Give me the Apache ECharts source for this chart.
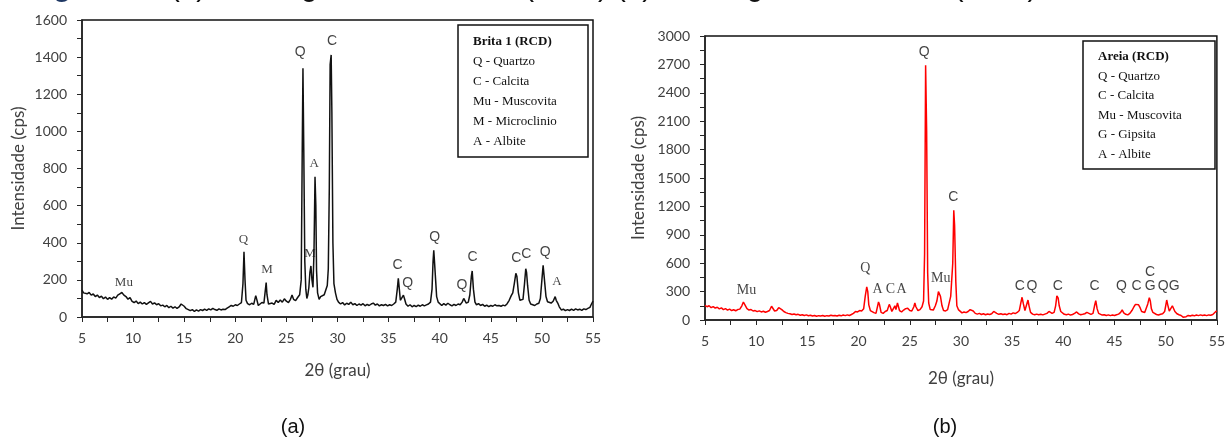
<!DOCTYPE html>
<html>
<head>
<meta charset="utf-8">
<script src="https://cdn.jsdelivr.net/npm/echarts@6/dist/echarts.min.js"></script>
<style>
  html, body { margin: 0; padding: 0; background: #fff; }
  #chart { width: 1228px; height: 445px; }
</style>
</head>
<body>
<div id="chart"></div>
<script>
// 2θ (grau), intensidade (cps)
var xTicks = [5, 10, 15, 20, 25, 30, 35, 40, 45, 50, 55];

// (a) Brita 1 (RCD)
var britaData = [
  [5.0,145],[5.15,130],[5.3,138],[5.5,125],[5.7,132],[5.9,118],[6.1,124],[6.3,110],[6.5,118],[6.7,105],
  [6.9,112],[7.1,98],[7.3,108],[7.5,95],[7.7,104],[7.9,96],[8.1,108],[8.3,102],[8.5,118],[8.7,125],
  [8.9,132],[9.1,118],[9.3,110],[9.5,96],[9.7,104],[9.9,84],[10.1,78],[10.3,86],[10.5,72],[10.7,80],
  [10.9,70],[11.1,78],[11.3,68],[11.5,76],[11.7,84],[11.9,70],[12.1,76],[12.3,66],[12.5,72],[12.7,60],
  [12.9,64],[13.1,55],[13.3,62],[13.5,50],[13.7,58],[13.9,48],[14.1,55],[14.3,46],[14.5,54],[14.7,70],
  [14.85,80],[15.0,58],[15.2,45],[15.4,40],[15.6,34],[15.8,40],[16.0,30],[16.2,38],[16.4,32],[16.6,40],
  [16.8,35],[17.0,42],[17.2,36],[17.4,44],[17.6,38],[17.8,46],[18.0,40],[18.2,36],[18.4,44],[18.6,38],
  [18.8,42],[19.0,40],[19.2,48],[19.4,55],[19.6,62],[19.8,58],[20.0,66],[20.2,62],[20.4,70],[20.6,78],
  [20.75,180],[20.85,352],[20.95,200],[21.05,90],[21.2,72],[21.4,66],[21.6,74],[21.8,68],[22.0,115],[22.1,95],
  [22.25,62],[22.4,70],[22.6,78],[22.8,75],[22.95,150],[23.02,186],[23.1,120],[23.25,70],[23.4,60],[23.6,75],
  [23.8,68],[24.0,90],[24.2,78],[24.4,92],[24.6,80],[24.8,98],[25.0,85],[25.2,78],[25.4,95],[25.55,118],
  [25.7,95],[25.9,88],[26.1,105],[26.3,120],[26.45,200],[26.55,900],[26.62,1340],[26.7,900],[26.8,300],[26.9,150],
  [27.0,100],[27.1,120],[27.2,160],[27.3,240],[27.4,275],[27.5,200],[27.6,160],[27.7,350],[27.8,756],[27.88,600],
  [27.95,250],[28.05,130],[28.2,95],[28.35,110],[28.5,100],[28.7,120],[28.85,130],[29.0,170],[29.1,260],[29.2,700],
  [29.28,1360],[29.38,1412],[29.45,1100],[29.55,400],[29.65,180],[29.8,130],[29.95,95],[30.1,80],[30.3,70],[30.5,78],
  [30.7,65],[30.9,74],[31.1,68],[31.3,80],[31.5,66],[31.7,72],[31.9,62],[32.1,70],[32.3,64],[32.5,72],
  [32.7,60],[32.9,68],[33.1,62],[33.3,70],[33.5,75],[33.7,64],[33.9,70],[34.1,60],[34.3,66],[34.5,62],
  [34.7,68],[34.9,60],[35.1,66],[35.3,62],[35.5,70],[35.7,80],[35.85,150],[35.95,208],[36.05,150],[36.15,90],
  [36.3,80],[36.45,118],[36.55,100],[36.7,70],[36.9,58],[37.1,66],[37.3,55],[37.5,62],[37.7,56],[37.9,64],
  [38.1,58],[38.3,66],[38.5,60],[38.7,65],[38.9,70],[39.1,80],[39.25,150],[39.35,300],[39.42,360],[39.5,290],
  [39.6,200],[39.7,110],[39.85,80],[40.0,70],[40.2,62],[40.4,72],[40.6,64],[40.8,74],[41.0,66],[41.2,60],
  [41.4,68],[41.6,62],[41.8,70],[42.0,66],[42.2,80],[42.35,100],[42.45,106],[42.6,75],[42.8,80],[42.95,120],
  [43.1,220],[43.18,248],[43.3,150],[43.45,80],[43.6,66],[43.8,72],[44.0,62],[44.2,68],[44.4,58],[44.6,64],
  [44.8,56],[45.0,62],[45.2,58],[45.4,66],[45.6,60],[45.8,62],[46.0,58],[46.2,64],[46.4,60],[46.6,72],
  [46.8,90],[47.0,115],[47.15,130],[47.3,180],[47.45,235],[47.55,220],[47.7,130],[47.85,90],[48.0,82],[48.15,95],
  [48.3,180],[48.42,260],[48.5,240],[48.6,170],[48.75,90],[48.9,70],[49.1,66],[49.3,62],[49.5,70],[49.7,74],
  [49.85,100],[50.0,200],[50.12,278],[50.25,200],[50.4,110],[50.55,82],[50.7,72],[50.9,75],[51.1,85],[51.3,110],
  [51.4,90],[51.55,75],[51.7,55],[51.9,38],[52.1,42],[52.3,34],[52.5,40],[52.7,35],[52.9,42],[53.1,36],
  [53.3,44],[53.5,38],[53.7,42],[53.9,36],[54.1,44],[54.3,40],[54.5,46],[54.7,52],[54.85,70],[55.0,85]
];

// (b) Areia (RCD)
var areiaData = [
  [5.0,155],[5.2,140],[5.4,150],[5.6,130],[5.8,142],[6.0,125],[6.2,135],[6.4,118],[6.6,128],[6.8,110],
  [7.0,120],[7.2,105],[7.4,115],[7.6,100],[7.8,108],[8.0,98],[8.2,110],[8.4,115],[8.6,150],[8.75,190],
  [8.9,160],[9.1,120],[9.3,105],[9.5,110],[9.7,95],[9.9,100],[10.1,88],[10.3,96],[10.5,85],[10.7,92],
  [10.9,82],[11.1,90],[11.3,100],[11.5,145],[11.6,130],[11.8,95],[12.0,100],[12.2,130],[12.35,140],[12.5,110],
  [12.7,90],[12.9,78],[13.1,70],[13.3,66],[13.5,58],[13.7,64],[13.9,55],[14.1,60],[14.3,50],[14.5,56],
  [14.7,48],[14.9,54],[15.1,45],[15.3,50],[15.5,42],[15.7,48],[15.9,40],[16.1,46],[16.3,42],[16.5,48],
  [16.7,40],[16.9,46],[17.1,42],[17.3,50],[17.5,44],[17.7,48],[17.9,42],[18.1,50],[18.3,44],[18.5,52],
  [18.7,46],[18.9,54],[19.1,48],[19.3,58],[19.5,70],[19.7,90],[19.9,85],[20.1,100],[20.3,95],[20.5,120],
  [20.65,250],[20.8,350],[20.9,300],[21.0,160],[21.15,100],[21.3,85],[21.5,78],[21.7,70],[21.85,90],[21.95,190],
  [22.05,160],[22.2,80],[22.4,70],[22.6,90],[22.8,100],[23.0,165],[23.1,140],[23.25,90],[23.4,80],[23.55,150],
  [23.65,110],[23.8,180],[23.9,160],[24.0,100],[24.2,85],[24.4,105],[24.6,120],[24.8,125],[25.0,100],[25.2,95],
  [25.4,140],[25.5,180],[25.6,140],[25.8,100],[26.0,110],[26.2,140],[26.35,200],[26.45,700],[26.55,2690],[26.65,2000],
  [26.75,500],[26.85,180],[27.0,110],[27.15,120],[27.3,105],[27.5,150],[27.65,200],[27.8,300],[27.9,310],[28.0,250],
  [28.15,150],[28.3,100],[28.5,95],[28.7,110],[28.85,130],[29.0,250],[29.1,260],[29.2,600],[29.3,1160],[29.38,1000],
  [29.5,400],[29.6,150],[29.75,110],[29.9,90],[30.1,75],[30.3,85],[30.5,78],[30.7,90],[30.9,110],[31.05,118],
  [31.2,95],[31.4,70],[31.6,62],[31.8,70],[32.0,58],[32.2,66],[32.4,56],[32.6,64],[32.8,58],[33.0,66],
  [33.2,90],[33.35,100],[33.5,70],[33.7,60],[33.9,66],[34.1,58],[34.3,64],[34.5,56],[34.7,70],[34.9,62],
  [35.1,75],[35.3,68],[35.5,80],[35.7,100],[35.85,180],[35.97,240],[36.1,170],[36.25,100],[36.4,110],[36.55,211],
  [36.65,150],[36.8,80],[37.0,62],[37.2,55],[37.4,62],[37.6,55],[37.8,60],[38.0,54],[38.2,62],[38.4,70],
  [38.6,90],[38.75,80],[38.9,70],[39.1,80],[39.25,150],[39.37,254],[39.5,230],[39.6,150],[39.75,90],[39.9,70],
  [40.1,60],[40.3,55],[40.5,62],[40.7,52],[40.9,58],[41.1,70],[41.3,85],[41.5,65],[41.7,56],[41.9,60],
  [42.1,66],[42.3,80],[42.5,70],[42.7,60],[42.9,70],[43.05,150],[43.17,204],[43.3,120],[43.45,70],[43.6,58],
  [43.8,52],[44.0,56],[44.2,48],[44.4,54],[44.6,46],[44.8,52],[45.0,48],[45.2,56],[45.4,62],[45.6,80],
  [45.75,106],[45.9,75],[46.1,60],[46.3,54],[46.5,70],[46.7,100],[46.9,140],[47.05,165],[47.2,169],[47.35,160],
  [47.5,130],[47.65,90],[47.8,70],[47.95,80],[48.1,100],[48.25,170],[48.4,236],[48.5,200],[48.6,120],[48.75,80],
  [48.9,62],[49.1,58],[49.3,52],[49.5,60],[49.7,66],[49.9,90],[50.0,150],[50.1,211],[50.2,160],[50.35,95],
  [50.5,110],[50.65,150],[50.75,140],[50.9,90],[51.1,66],[51.3,55],[51.5,48],[51.7,30],[51.85,15],[52.0,35],
  [52.2,48],[52.4,42],[52.6,50],[52.8,44],[53.0,52],[53.2,46],[53.4,54],[53.6,48],[53.8,52],[54.0,46],
  [54.2,54],[54.4,50],[54.6,58],[54.75,70],[54.9,90],[55.0,95]
];

// identificação das fases: [2θ, intensidade, rótulo]
var britaPeaksSerif = [[9.1,188,'Mu'],[20.8,418,'Q'],[23.1,256,'M'],[27.73,825,'A'],[27.3,344,'M'],[51.48,189,'A']];
var britaPeaksSans = [[26.36,1425,'Q'],[29.46,1486,'C'],[35.88,279,'C'],[36.86,184,'Q'],[39.5,429,'Q'],
  [42.18,171,'Q'],[43.22,324,'C'],[47.49,315,'C'],[48.47,339,'C'],[50.33,351,'Q']];
var areiaPeaksSerif = [[9.06,317,'Mu'],[20.66,546,'Q'],[21.86,324,'A'],[23.1,324,'C'],[24.19,324,'A'],[28.02,440,'Mu']];
var areiaPeaksSans = [[26.4,2833,'Q'],[29.25,1296,'C'],[35.74,359,'C'],[36.94,359,'Q'],[39.47,359,'C'],
  [43.04,359,'C'],[45.69,359,'Q'],[47.15,359,'C'],[48.48,359,'G'],[48.48,510,'C'],[49.75,359,'Q'],[50.82,359,'G']];

var britaLegend = ['Brita 1 (RCD)', 'Q - Quartzo', 'C - Calcita', 'Mu - Muscovita', 'M - Microclinio', 'A - Albite'];
var areiaLegend = ['Areia (RCD)', 'Q - Quartzo', 'C - Calcita', 'Mu - Muscovita', 'G - Gipsita', 'A - Albite'];

var SANS = 'Lato, "Noto Sans", sans-serif';
var SERIF = '"Liberation Serif", "DejaVu Serif", serif';
var ARIAL = '"Liberation Sans", Arial, sans-serif';

function plain(v) { return String(v); }

function xAxisOf(grid, gap) {
  return {
    type: 'value', gridIndex: grid, min: 5, max: 55, interval: 5,
    name: '2θ (grau)', nameLocation: 'middle', nameGap: gap,
    nameTextStyle: { fontFamily: SANS, fontSize: 17, color: '#404040' },
    axisLine: { lineStyle: { color: '#262626', width: 1.5 } },
    axisTick: { length: 5, lineStyle: { color: '#262626' } },
    minorTick: { show: true, splitNumber: 2, length: 5, lineStyle: { color: '#262626' } },
    axisLabel: { margin: 14, fontFamily: SANS, fontSize: 14, color: '#404040', formatter: plain },
    splitLine: { show: false }
  };
}

function yAxisOf(grid, max, step, gap) {
  return {
    type: 'value', gridIndex: grid, min: 0, max: max, interval: step,
    name: 'Intensidade (cps)', nameLocation: 'middle', nameGap: gap, nameRotate: 90,
    nameTextStyle: { fontFamily: SANS, fontSize: 17, color: '#404040' },
    axisLine: { show: true, lineStyle: { color: '#262626', width: 1.5 } },
    axisTick: { show: true, length: 5, lineStyle: { color: '#262626' } },
    minorTick: { show: true, splitNumber: 2, length: 5, lineStyle: { color: '#262626' } },
    axisLabel: { margin: 15, fontFamily: SANS, fontSize: 14, color: '#404040', formatter: plain },
    splitLine: { show: false }
  };
}

function peakSeries(idx, list, font, size) {
  return {
    type: 'scatter', xAxisIndex: idx, yAxisIndex: idx, symbolSize: 0, silent: true,
    data: list.map(function (p) { return { value: [p[0], p[1]], name: p[2] }; }),
    label: { show: true, position: 'inside', formatter: '{b}', fontFamily: font, fontSize: size, color: '#111' }
  };
}

function legendBox(x, y, w, h, lines, lineStart, lineStep) {
  var els = [{
    type: 'rect', shape: { x: x, y: y, width: w, height: h },
    style: { fill: '#fff', stroke: '#111', lineWidth: 1.5 }, z: 100
  }];
  lines.forEach(function (t, i) {
    els.push({
      type: 'text', x: x + 15, y: lineStart + i * lineStep, z: 101,
      style: { text: t, font: (i === 0 ? 'bold ' : '') + '13px ' + SERIF, fill: '#111', verticalAlign: 'middle' }
    });
  });
  return els;
}

var chart = echarts.init(document.getElementById('chart'));
chart.setOption({
  animation: false,
  backgroundColor: '#fff',
  grid: [
    { left: 82, top: 20, width: 511, height: 297, show: true, borderColor: '#111', borderWidth: 1.5, backgroundColor: 'transparent' },
    { left: 705, top: 36, width: 514, height: 284, show: true, borderColor: '#111', borderWidth: 1.5, backgroundColor: 'transparent' }
  ],
  xAxis: [xAxisOf(0, 45), xAxisOf(1, 50)],
  yAxis: [yAxisOf(0, 1600, 200, 55), yAxisOf(1, 3000, 300, 58)],
  series: [
    { type: 'line', xAxisIndex: 0, yAxisIndex: 0, data: britaData, showSymbol: false, smooth: false,
      lineStyle: { color: '#111', width: 1.5 } },
    { type: 'line', xAxisIndex: 1, yAxisIndex: 1, data: areiaData, showSymbol: false, smooth: false,
      lineStyle: { color: '#ff0000', width: 1.5 } },
    peakSeries(0, britaPeaksSerif, SERIF, 13),
    peakSeries(0, britaPeaksSans, ARIAL, 14),
    peakSeries(1, areiaPeaksSerif, SERIF, 14),
    peakSeries(1, areiaPeaksSans, ARIAL, 14)
  ],
  graphic: [
    { type: 'text', x: 27, y: -12, style: { text: 'Figura 2 –', font: 'bold 29.5px ' + ARIAL, fill: '#1f3864', verticalAlign: 'middle' } },
    { type: 'text', x: 170, y: -12, style: { text: '(a) Difratograma da brita 1 (RCD),(b) Difratograma da areia (RCD)', font: '29.5px ' + ARIAL, fill: '#111', verticalAlign: 'middle' } },
    { type: 'text', x: 293, y: 427, style: { text: '(a)', font: '20px ' + ARIAL, fill: '#111', align: 'center', verticalAlign: 'middle' } },
    { type: 'text', x: 945, y: 427, style: { text: '(b)', font: '20px ' + ARIAL, fill: '#111', align: 'center', verticalAlign: 'middle' } }
  ].concat(legendBox(458, 25, 130, 132, britaLegend, 42, 20))
   .concat(legendBox(1083, 41, 132, 128, areiaLegend, 57, 19.5))
});
</script>
</body>
</html>
